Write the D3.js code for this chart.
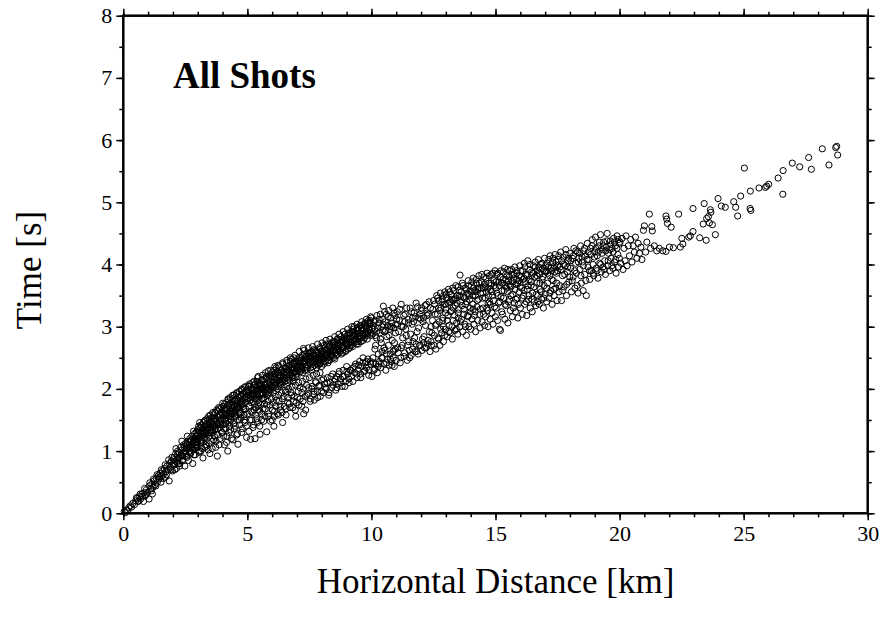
<!DOCTYPE html>
<html>
<head>
<meta charset="utf-8">
<script src="https://cdn.jsdelivr.net/npm/d3@7"></script>
<style>
  body { margin: 0; background: #fff; }
  svg text { font-family: "Liberation Serif", "DejaVu Serif", serif; }
</style>
</head>
<body>
<div id="chart"></div>
<script>
// picks: [horizontal distance km, travel time s]
const picks0to2_5 = [[0.04,0.03],[0.08,0.01],[0.12,0.05],[0.18,0.04],[0.22,0.09],[0.28,0.12],[0.33,0.1],[0.38,0.16],[0.45,0.14],[0.5,0.2],[0.56,0.24],[0.6,0.19],[0.66,0.27],[0.7,0.23],[0.75,0.31],[0.81,0.19],[0.84,0.33],[0.88,0.28],[0.93,0.38],[0.98,0.34],[1.04,0.23],[1.05,0.44],[1.1,0.39],[1.15,0.47],[1.2,0.42],[1.24,0.52],[1.28,0.46],[1.33,0.56],[1.37,0.5],[1.4,0.6],[1.44,0.55],[1.48,0.64],[1.52,0.5],[1.55,0.6],[1.58,0.68],[1.62,0.63],[1.66,0.72],[1.7,0.58],[1.72,0.67],[1.76,0.76],[1.8,0.7],[1.85,0.52],[1.86,0.8],[1.9,0.74],[1.94,0.84],[1.98,0.68],[2.02,0.79],[2.05,0.9],[2.1,0.84],[2.14,0.72],[2.18,0.94],[2.2,0.88],[2.25,0.98],[2.28,0.8],[2.32,0.92],[2.36,1.02],[2.4,0.86],[2.42,0.97],[2.46,1.06],[2.48,0.76],
  [0.53,0.25],[0.62,0.2],[0.68,0.31],[0.77,0.27],[0.86,0.4],[0.91,0.3],[1.07,0.49],[1.13,0.36],[1.22,0.55],[1.31,0.44],[1.36,0.62],[1.46,0.58],[1.53,0.7],[1.61,0.56],[1.69,0.78],[1.74,0.62],[1.83,0.86],[1.91,0.7],[1.96,0.9],[1.17,0.31],
  [2.03,0.86],[2.07,0.7],[2.11,0.96],[2.16,0.82],[2.19,1.0],[2.23,0.9],[2.27,0.76],[2.31,1.06],[2.34,0.94],[2.38,0.84],[2.43,1.1],[2.47,0.98],
  [2.06,0.78],[2.21,0.8],[2.39,0.92],[2.12,1.04],[2.36,1.16]];

const picks2_5to5 = [[2.52,1.0],[2.55,0.92],[2.58,1.1],[2.6,1.04],[2.63,0.85],[2.66,1.14],[2.7,1.06],[2.72,0.98],[2.75,1.18],[2.78,1.1],[2.8,0.8],[2.82,1.02],[2.85,1.2],[2.88,1.13],[2.9,0.94],[2.93,1.24],[2.96,1.16],[2.98,1.06],[3.0,1.28],[3.02,1.2],[3.05,0.98],[3.08,1.46],[3.1,1.24],[3.12,1.14],[3.15,1.32],[3.18,1.04],[3.2,1.27],[3.21,0.89],[3.24,1.36],[3.27,1.2],[3.3,1.3],[3.32,1.1],[3.35,1.4],[3.38,1.26],[3.4,1.34],[3.42,1.02],[3.45,1.44],[3.48,1.3],[3.49,0.96],[3.52,1.38],[3.55,1.48],[3.57,1.16],[3.6,1.34],[3.62,1.42],[3.65,1.52],[3.67,1.24],[3.7,1.4],[3.72,1.06],[3.75,1.48],[3.76,1.66],[3.78,1.56],[3.79,0.92],[3.82,1.36],[3.85,1.44],[3.88,1.58],[3.9,1.2],[3.92,1.5],[3.95,1.62],[3.97,1.3],[4.0,1.54],[4.02,1.42],[4.05,1.66],[4.08,1.1],[4.1,1.58],[4.12,1.48],[4.15,1.7],[4.18,1.24],[4.2,1.6],[4.21,1.0],[4.24,1.52],[4.27,1.74],[4.3,1.64],[4.32,1.34],[4.35,1.56],[4.38,1.78],[4.4,1.68],[4.42,1.18],[4.45,1.6],[4.48,1.72],[4.5,1.82],[4.52,1.4],[4.55,1.66],[4.58,1.76],[4.6,1.28],[4.62,1.11],[4.64,1.86],[4.66,1.7],[4.68,1.5],[4.7,1.8],[4.72,1.62],[4.75,1.9],[4.78,1.74],[4.8,1.36],[4.82,1.84],[4.85,1.68],[4.88,1.94],[4.9,1.46],[4.92,1.78],[4.95,1.88],[4.97,1.22],[4.99,1.98],[3.55,1.29],[3.68,1.34],[4.05,1.36],[4.28,1.46],[2.95,1.1],[3.15,1.18],[4.48,1.55],[4.86,1.58],[3.92,1.42],[2.7,1.16],[4.15,1.58],[4.6,1.72],[3.3,1.22],[4.75,1.76],[4.38,1.64],
  [2.51,1.12],[2.54,1.04],[2.57,0.9],[2.61,1.16],[2.64,1.06],[2.68,1.2],[2.71,0.96],[2.74,1.1],[2.77,1.24],[2.81,1.14],[2.84,0.94],[2.87,1.28],[2.89,1.18],[2.92,1.06],[2.94,1.3],[2.97,1.2],[2.99,1.34],[2.86,1.06],
  [3.03,1.32],[3.06,1.22],[3.09,1.38],[3.11,1.3],[3.14,1.42],[3.17,1.24],[3.19,1.36],[3.22,1.46],[3.26,1.3],[3.28,1.4],[3.31,1.5],[3.34,1.34],[3.37,1.44],[3.39,1.52],[3.43,1.38],[3.46,1.5],[3.5,1.58],[3.53,1.44],[3.56,1.54],[3.59,1.4],[3.63,1.58],[3.66,1.48],[3.69,1.62],[3.73,1.52],[3.77,1.44],[3.8,1.64],[3.83,1.54],[3.87,1.68],[3.91,1.58],[3.94,1.48],[3.96,1.7],[3.99,1.6],
  [4.03,1.72],[4.06,1.6],[4.09,1.76],[4.11,1.66],[4.14,1.52],[4.17,1.78],[4.19,1.68],[4.23,1.82],[4.26,1.62],[4.29,1.76],[4.31,1.86],[4.34,1.7],[4.37,1.6],[4.39,1.84],[4.43,1.74],[4.46,1.9],[4.49,1.66],[4.53,1.8],[4.56,1.92],[4.59,1.7],[4.63,1.82],[4.67,1.96],[4.69,1.76],[4.73,1.88],[4.76,1.98],[4.79,1.8],[4.83,1.92],[4.87,2.02],[4.91,1.86],[4.94,1.96],[4.98,1.82],
  [3.13,1.0],[3.36,1.08],[3.58,1.04],[3.74,1.16],[3.86,1.1],[4.04,1.24],[4.16,1.14],[4.26,1.3],[4.36,1.2],[4.47,1.36],[4.57,1.26],[4.69,1.42],[4.77,1.3],[4.89,1.5],[4.96,1.4],
  [2.53,0.96],[2.67,1.0],[2.79,1.04],[2.91,1.1],[3.01,1.14],[3.16,1.16],[3.23,1.22],[3.33,1.28],[3.47,1.24],[3.54,1.34],[3.61,1.3],[3.71,1.36],[3.81,1.42],[3.89,1.38],[4.07,1.5],[4.13,1.44],[4.25,1.56],[4.33,1.5],[4.47,1.62],[4.54,1.56],[4.65,1.66],[4.71,1.6],[4.84,1.72],[4.93,1.68],
  [2.58,1.24],[2.83,1.32],[3.04,1.4],[3.27,1.48],[3.44,1.56],[3.61,1.62],[3.84,1.7],[4.01,1.77],[4.22,1.84],[4.41,1.9],[4.57,1.94],[4.78,2.0],[4.93,2.04],
  [3.07,1.0],[3.29,1.06],[3.46,1.12],[3.64,1.18],[3.81,1.26],[3.98,1.3],[4.13,1.36],[4.29,1.4],[4.44,1.44],[4.61,1.5],[4.74,1.54],[4.87,1.58]];

const picks5to7_5 = [[5.02,1.84],[5.04,2.05],[5.06,1.72],[5.08,1.94],[5.1,1.5],[5.13,1.19],[5.14,1.88],[5.16,1.78],[5.18,2.0],[5.2,1.62],[5.22,1.9],[5.25,1.42],[5.27,2.06],[5.3,1.84],[5.31,1.2],[5.33,1.96],[5.35,1.7],[5.38,1.52],[5.4,2.02],[5.42,1.88],[5.44,2.2],[5.46,1.78],[5.48,1.98],[5.5,1.4],[5.51,1.27],[5.53,2.08],[5.55,1.92],[5.58,1.6],[5.6,2.0],[5.62,2.14],[5.64,1.84],[5.66,1.48],[5.68,2.06],[5.7,1.96],[5.72,1.68],[5.75,2.18],[5.78,1.31],[5.79,2.02],[5.82,1.9],[5.84,2.29],[5.86,1.56],[5.88,2.1],[5.9,1.98],[5.92,1.74],[5.95,2.2],[5.97,2.04],[6.0,1.5],[6.02,2.12],[6.04,1.94],[6.07,1.4],[6.08,2.24],[6.1,1.64],[6.12,2.06],[6.15,2.16],[6.17,1.82],[6.2,2.28],[6.22,2.0],[6.25,1.58],[6.27,2.14],[6.3,2.22],[6.32,1.72],[6.35,2.08],[6.38,2.3],[6.4,1.62],[6.42,1.46],[6.44,2.18],[6.46,2.26],[6.48,1.88],[6.5,2.12],[6.52,2.34],[6.55,1.68],[6.57,2.22],[6.6,2.04],[6.62,1.78],[6.65,2.3],[6.67,2.16],[6.7,2.38],[6.72,1.7],[6.75,2.24],[6.78,1.9],[6.79,2.48],[6.82,2.32],[6.84,2.12],[6.86,1.8],[6.88,2.4],[6.9,2.26],[6.93,1.66],[6.95,1.56],[6.97,2.36],[7.0,2.2],[7.02,1.86],[7.04,2.44],[7.06,2.3],[7.08,1.74],[7.1,2.38],[7.12,2.02],[7.15,2.28],[7.18,2.5],[7.2,1.94],[7.22,2.36],[7.24,1.8],[7.26,2.65],[7.27,1.6],[7.3,2.42],[7.32,2.3],[7.35,1.66],[7.37,2.52],[7.4,1.9],[7.42,2.38],[7.45,2.46],[7.47,2.02],[7.49,2.56],[5.25,1.92],[5.55,2.02],[5.9,2.08],[6.3,2.1],[6.7,2.28],[7.1,2.34],[5.45,1.66],[6.05,1.78],[6.55,1.95],[7.25,2.4],[5.75,1.99],[6.15,2.03],[6.95,2.28],[5.35,1.98],[6.45,2.2],[7.4,2.48],[5.68,1.86],[6.85,2.18],
  [5.03,1.96],[5.07,2.04],[5.11,1.86],[5.15,2.0],[5.19,1.92],[5.21,2.1],[5.24,1.8],[5.28,1.98],[5.32,2.08],[5.36,1.9],[5.39,2.12],[5.43,1.98],[5.47,2.06],[5.52,1.9],[5.56,2.14],[5.59,2.02],[5.63,1.94],[5.67,2.16],[5.71,2.06],[5.74,1.92],[5.77,2.2],[5.81,2.08],[5.85,2.0],[5.89,2.22],[5.93,2.12],[5.96,1.98],[5.99,2.26],[5.87,1.94],[5.58,1.84],[5.29,1.76],
  [6.03,2.2],[6.06,2.3],[6.09,2.1],[6.13,2.24],[6.16,2.34],[6.19,2.14],[6.23,2.26],[6.26,2.04],[6.29,2.36],[6.33,2.2],[6.36,2.3],[6.39,2.12],[6.43,2.4],[6.47,2.24],[6.51,2.16],[6.54,2.34],[6.58,2.42],[6.61,2.26],[6.64,2.1],[6.68,2.36],[6.71,2.22],[6.74,2.44],[6.77,2.3],[6.81,2.18],[6.83,2.4],[6.87,2.5],[6.91,2.32],[6.94,2.2],[6.96,2.44],[6.99,2.34],
  [7.03,2.4],[7.07,2.5],[7.11,2.28],[7.14,2.44],[7.17,2.36],[7.21,2.54],[7.23,2.26],[7.28,2.46],[7.31,2.56],[7.34,2.36],[7.38,2.48],[7.41,2.3],[7.44,2.58],[7.48,2.42],
  [5.06,1.32],[5.17,1.5],[5.23,1.38],[5.34,1.58],[5.41,1.46],[5.49,1.64],[5.57,1.5],[5.63,1.68],[5.71,1.56],[5.79,1.74],[5.86,1.6],[5.93,1.48],[6.01,1.66],[6.09,1.56],[6.14,1.72],[6.21,1.6],[6.28,1.8],[6.34,1.66],[6.41,1.84],[6.49,1.72],[6.56,1.58],[6.63,1.86],[6.69,1.76],[6.76,1.94],[6.83,1.7],[6.89,1.88],[6.97,1.78],[7.05,1.96],[7.13,1.84],[7.19,1.72],[7.25,2.0],[7.33,1.88],[7.39,2.06],[7.46,1.92],
  [5.05,1.9],[5.12,1.82],[5.19,1.98],[5.26,1.88],[5.37,1.84],[5.44,2.0],[5.51,2.04],[5.6,1.9],[5.66,2.1],[5.73,2.0],[5.8,1.96],[5.88,2.16],[5.96,2.06],[6.04,2.02],[6.11,2.18],[6.18,2.1],[6.24,2.22],[6.31,2.06],[6.37,2.26],[6.44,2.14],[6.51,2.28],[6.58,2.18],[6.63,2.32],[6.71,2.14],[6.78,2.34],[6.84,2.26],[6.92,2.42],[6.98,2.24],[7.05,2.36],[7.13,2.46],[7.19,2.32],[7.27,2.44],[7.33,2.5],[7.39,2.34],[7.47,2.5],
  [5.09,2.08],[5.26,2.12],[5.41,2.18],[5.61,2.22],[5.73,2.26],[5.94,2.3],[6.11,2.36],[6.24,2.38],[6.42,2.42],[6.59,2.46],[6.73,2.5],[6.92,2.54],[7.09,2.6],[7.29,2.62],[7.46,2.66],
  [5.01,1.6],[5.14,1.64],[5.28,1.66],[5.43,1.72],[5.54,1.74],[5.69,1.76],[5.83,1.8],[5.97,1.84],[6.12,1.88],[6.26,1.9],[6.37,1.94],[6.52,1.98],[6.66,2.0],[6.8,2.04],[6.94,2.06],[7.07,2.1],[7.22,2.12],[7.36,2.16],[7.5,2.18]];

const picks7_5to10 = [[7.52,2.4],[7.54,1.84],[7.56,2.58],[7.58,2.3],[7.6,2.0],[7.62,2.48],[7.64,2.36],[7.66,2.63],[7.68,1.92],[7.7,1.82],[7.72,2.44],[7.74,2.54],[7.76,2.1],[7.78,2.34],[7.8,2.6],[7.82,1.96],[7.84,2.46],[7.86,2.38],[7.88,2.04],[7.9,2.66],[7.92,2.5],[7.94,1.88],[7.96,2.42],[7.98,2.56],[8.0,2.14],[8.02,2.62],[8.04,2.48],[8.06,1.94],[8.08,2.4],[8.1,2.7],[8.12,2.08],[8.14,2.54],[8.16,2.44],[8.18,2.0],[8.2,2.64],[8.22,2.18],[8.24,2.5],[8.26,2.58],[8.28,1.9],[8.3,2.72],[8.32,2.46],[8.34,2.1],[8.36,2.56],[8.38,2.66],[8.4,2.02],[8.42,2.52],[8.44,2.24],[8.46,2.76],[8.48,2.6],[8.5,2.12],[8.52,2.48],[8.54,2.7],[8.56,1.98],[8.58,2.62],[8.6,2.2],[8.62,2.8],[8.64,2.56],[8.66,2.08],[8.68,2.68],[8.7,2.28],[8.72,2.74],[8.74,2.6],[8.76,2.16],[8.78,2.84],[8.8,2.66],[8.82,2.04],[8.84,2.58],[8.86,2.3],[8.88,2.76],[8.9,2.2],[8.92,2.7],[8.94,2.88],[8.96,2.12],[8.98,2.62],[9.0,2.36],[9.02,2.8],[9.04,2.24],[9.06,2.72],[9.08,2.9],[9.1,2.1],[9.12,2.66],[9.14,2.3],[9.16,2.82],[9.18,2.76],[9.2,2.2],[9.22,2.92],[9.24,2.68],[9.26,2.34],[9.28,2.86],[9.3,3.0],[9.32,2.26],[9.34,2.78],[9.36,2.4],[9.38,2.94],[9.4,2.72],[9.42,2.18],[9.44,2.84],[9.46,2.3],[9.48,2.98],[9.5,2.8],[9.52,2.44],[9.54,2.9],[9.56,2.24],[9.58,2.76],[9.6,3.02],[9.62,2.36],[9.64,2.88],[9.66,2.5],[9.68,2.96],[9.7,2.28],[9.72,2.82],[9.74,3.06],[9.76,2.42],[9.78,2.92],[9.8,2.34],[9.82,3.0],[9.84,2.86],[9.86,2.48],[9.88,3.1],[9.9,2.3],[9.92,2.94],[9.94,3.04],[9.96,2.44],[9.98,2.9],[7.75,2.47],[8.05,2.55],[8.35,2.6],[8.65,2.64],[8.95,2.74],[9.25,2.78],[9.55,2.85],[9.85,2.92],[7.95,2.5],[8.55,2.58],[9.15,2.7],[9.75,2.88],[8.25,2.42],[8.85,2.66],[9.45,2.76],
  [7.51,2.52],[7.55,2.34],[7.59,2.6],[7.63,2.44],[7.67,2.54],[7.71,2.38],[7.73,2.62],[7.77,2.5],[7.81,2.4],[7.85,2.58],[7.89,2.46],[7.93,2.64],[7.97,2.52],[7.99,2.36],
  [8.03,2.6],[8.07,2.44],[8.11,2.66],[8.15,2.52],[8.19,2.72],[8.23,2.56],[8.27,2.46],[8.31,2.68],[8.35,2.54],[8.39,2.74],[8.43,2.62],[8.47,2.5],[8.51,2.76],[8.55,2.64],[8.59,2.54],[8.63,2.72],[8.67,2.8],[8.71,2.6],[8.75,2.7],[8.79,2.56],[8.83,2.78],[8.87,2.66],[8.91,2.82],[8.95,2.6],[8.99,2.76],
  [9.03,2.86],[9.07,2.64],[9.11,2.8],[9.15,2.9],[9.19,2.7],[9.23,2.84],[9.27,2.96],[9.31,2.74],[9.35,2.88],[9.39,2.8],[9.43,2.98],[9.47,2.72],[9.51,2.9],[9.55,3.02],[9.59,2.82],[9.63,2.94],[9.67,2.78],[9.71,3.04],[9.75,2.9],[9.79,2.98],[9.83,2.8],[9.87,3.06],[9.91,2.96],[9.95,3.1],[9.99,2.86],
  [7.53,1.8],[7.61,2.04],[7.69,1.96],[7.75,2.12],[7.83,1.86],[7.91,2.06],[7.99,1.96],[8.07,2.16],[8.13,2.02],[8.21,2.1],[8.29,1.94],[8.37,2.2],[8.45,2.06],[8.53,2.16],[8.61,2.02],[8.69,2.24],[8.77,2.1],[8.85,2.2],[8.93,2.04],[9.01,2.28],[9.09,2.16],[9.17,2.3],[9.25,2.12],[9.33,2.36],[9.41,2.24],[9.49,2.38],[9.57,2.18],[9.65,2.42],[9.73,2.3],[9.81,2.44],[9.89,2.22],[9.97,2.4],
  [7.54,2.44],[7.62,2.56],[7.68,2.42],[7.76,2.58],[7.84,2.5],[7.91,2.4],[7.98,2.6],[8.06,2.5],[8.13,2.62],[8.21,2.54],[8.28,2.68],[8.36,2.52],[8.44,2.7],[8.53,2.58],[8.61,2.74],[8.69,2.62],[8.77,2.76],[8.85,2.68],[8.93,2.8],[9.02,2.7],[9.1,2.86],[9.18,2.74],[9.26,2.9],[9.35,2.8],[9.44,2.94],[9.52,2.84],[9.6,2.98],[9.69,2.86],[9.77,3.02],[9.86,2.9],[9.94,3.06],
  [7.63,2.68],[7.83,2.72],[8.01,2.74],[8.17,2.78],[8.33,2.8],[8.52,2.84],[8.69,2.88],[8.86,2.92],[9.04,2.96],[9.21,3.0],[9.42,3.04],[9.61,3.08],[9.8,3.12],[9.97,3.16],
  [7.65,2.22],[7.79,2.24],[7.93,2.26]];

const picks10to12_5 = [[10.0,3.14],[10.02,2.2],[10.04,2.88],[10.06,2.5],[10.08,3.02],[10.1,2.3],[10.12,2.96],[10.14,2.64],[10.16,3.1],[10.18,2.4],[10.2,2.82],[10.22,3.18],[10.24,2.26],[10.26,2.98],[10.28,2.56],[10.3,3.06],[10.32,2.44],[10.34,2.9],[10.36,3.2],[10.38,2.34],[10.4,2.74],[10.42,3.0],[10.44,2.5],[10.46,3.12],[10.48,3.33],[10.5,2.4],[10.52,2.92],[10.54,2.62],[10.56,3.08],[10.58,2.3],[10.6,3.2],[10.62,2.84],[10.64,2.48],[10.66,3.02],[10.68,2.7],[10.7,3.26],[10.72,2.38],[10.74,2.96],[10.76,2.56],[10.78,3.14],[10.8,2.44],[10.82,3.06],[10.84,2.78],[10.86,3.3],[10.88,2.5],[10.9,2.98],[10.92,2.36],[10.94,3.18],[10.96,2.64],[10.98,3.04],[11.0,2.46],[11.04,3.24],[11.08,2.58],[11.12,3.1],[11.16,2.42],[11.2,3.36],[11.24,2.7],[11.28,3.0],[11.32,2.52],[11.36,3.2],[11.4,2.86],[11.44,2.46],[11.48,3.12],[11.52,2.62],[11.56,3.3],[11.6,2.54],[11.64,3.04],[11.68,2.76],[11.72,3.22],[11.76,2.6],[11.8,3.38],[11.84,2.92],[11.88,2.56],[11.92,3.14],[11.96,2.7],[12.0,3.26],[12.04,2.62],[12.08,3.08],[12.12,2.84],[12.16,3.34],[12.2,2.66],[12.24,3.18],[12.28,2.78],[12.32,3.4],[12.36,2.6],[12.4,3.0],[12.44,2.9],[12.48,3.28],[10.15,2.86],[10.45,2.94],[10.75,3.0],[11.05,3.04],[11.35,3.08],[11.65,3.14],[11.95,3.2],[12.25,3.22],[10.3,2.4],[10.9,2.62],[11.5,2.76],[12.1,2.74],[10.6,2.56],[11.2,2.66],[11.8,2.72],[12.4,2.76],
  [10.03,2.98],[10.07,2.42],[10.11,3.08],[10.17,2.7],[10.21,2.92],[10.27,2.36],[10.31,3.12],[10.37,2.8],[10.41,2.5],[10.47,3.04],[10.51,2.66],[10.57,2.94],[10.61,2.42],[10.67,3.16],[10.71,2.86],[10.77,2.48],[10.81,3.0],[10.87,2.6],[10.91,3.22],[10.97,2.9],[10.13,2.32],[10.53,3.24],[10.83,2.38],[10.43,2.6],[10.93,2.74],
  [11.02,3.12],[11.06,2.66],[11.1,2.92],[11.14,3.28],[11.18,2.5],[11.22,3.0],[11.26,2.82],[11.3,3.18],[11.34,2.58],[11.38,2.96],[11.42,3.3],[11.46,2.7],[11.5,3.06],[11.54,2.5],[11.58,2.88],[11.62,3.24],[11.66,2.64],[11.7,3.08],[11.74,2.82],[11.78,3.16],[11.82,2.6],[11.86,3.32],[11.9,2.98],[11.94,2.7],[11.98,3.12],
  [12.02,3.3],[12.06,2.8],[12.1,3.14],[12.14,2.66],[12.18,3.02],[12.22,3.36],[12.26,2.72],[12.3,3.2],[12.34,2.92],[12.38,3.3],[12.42,2.7],[12.46,3.1]];

const picks12_5to15 = [[12.52,2.7],[12.55,3.36],[12.58,3.02],[12.6,2.64],[12.63,3.5],[12.66,3.2],[12.68,2.82],[12.7,3.42],[12.73,3.08],[12.76,2.7],[12.78,3.54],[12.8,3.3],[12.83,2.9],[12.86,3.44],[12.88,3.14],[12.9,2.76],[12.93,3.36],[12.96,3.56],[12.98,2.96],[13.0,3.28],[13.03,3.46],[13.06,2.84],[13.08,3.18],[13.1,3.6],[13.13,3.02],[13.16,3.4],[13.18,2.9],[13.2,3.52],[13.23,3.26],[13.26,2.8],[13.28,3.62],[13.3,3.1],[13.33,3.44],[13.36,2.94],[13.38,3.34],[13.4,3.66],[13.43,3.06],[13.46,3.5],[13.48,2.88],[13.5,3.22],[13.53,3.58],[13.56,3.0],[13.57,3.83],[13.6,3.4],[13.63,3.12],[13.66,3.7],[13.68,2.92],[13.7,3.48],[13.73,3.28],[13.76,3.04],[13.78,3.62],[13.8,3.36],[13.83,2.86],[13.86,3.54],[13.88,3.18],[13.9,3.74],[13.93,3.0],[13.96,3.44],[13.98,3.3],[14.0,2.96],[14.03,3.66],[14.06,3.12],[14.08,3.5],[14.1,3.78],[14.13,3.04],[14.16,3.58],[14.18,3.24],[14.2,2.92],[14.23,3.7],[14.26,3.42],[14.28,3.1],[14.3,3.62],[14.33,3.82],[14.36,3.2],[14.38,2.98],[14.4,3.54],[14.43,3.72],[14.46,3.08],[14.48,3.46],[14.5,3.3],[14.53,3.8],[14.56,3.02],[14.58,3.64],[14.6,3.16],[14.63,3.56],[14.66,3.86],[14.68,3.26],[14.7,3.0],[14.73,3.7],[14.76,3.4],[14.78,3.12],[14.8,3.6],[14.83,3.84],[14.86,3.22],[14.88,3.5],[14.9,3.04],[14.93,3.74],[14.96,3.32],[14.98,3.9],[12.7,3.3],[13.0,3.36],[13.3,3.42],[13.6,3.48],[13.9,3.52],[14.2,3.56],[14.5,3.62],[14.8,3.66],[12.9,3.0],[13.5,3.14],[14.1,3.28],[14.7,3.38],
  [12.5,3.42],[12.54,2.86],[12.57,3.2],[12.62,3.04],[12.67,3.46],[12.71,2.8],[12.75,3.26],[12.79,2.96],[12.84,3.4],[12.87,3.1],[12.91,3.5],[12.95,2.86],[12.99,3.22],
  [13.02,3.52],[13.05,3.1],[13.09,3.38],[13.12,2.92],[13.15,3.56],[13.19,3.24],[13.22,3.44],[13.25,3.0],[13.29,3.3],[13.32,3.58],[13.35,3.18],[13.39,3.46],[13.42,2.96],[13.45,3.38],[13.49,3.64],[13.52,3.28],[13.55,3.5],[13.59,3.08],[13.62,3.56],[13.65,3.34],[13.69,3.66],[13.72,3.2],[13.75,3.46],[13.79,3.0],[13.82,3.6],[13.85,3.4],[13.89,3.16],[13.92,3.66],[13.95,3.5],[13.99,3.24],
  [14.02,3.56],[14.05,3.72],[14.09,3.36],[14.12,3.62],[14.15,3.18],[14.19,3.5],[14.22,3.76],[14.25,3.32],[14.29,3.6],[14.32,3.44],[14.35,3.7],[14.39,3.28],[14.42,3.62],[14.45,3.84],[14.49,3.54],[14.52,3.2],[14.55,3.68],[14.59,3.46],[14.62,3.78],[14.65,3.3],[14.69,3.62],[14.72,3.5],[14.75,3.82],[14.79,3.36],[14.82,3.7],[14.85,3.56],[14.89,3.86],[14.92,3.42],[14.95,3.66],[14.99,3.16]];

const picks15to17_5 = [[15.0,3.62],[15.03,3.3],[15.06,3.84],[15.08,3.1],[15.1,3.5],[15.13,3.72],[15.16,2.96],[15.18,3.4],[15.2,2.94],[15.23,3.9],[15.26,3.58],[15.28,3.2],[15.3,3.76],[15.33,3.46],[15.36,3.94],[15.38,3.12],[15.4,3.66],[15.43,3.34],[15.46,3.82],[15.48,3.56],[15.5,3.06],[15.53,3.74],[15.56,3.44],[15.58,3.9],[15.6,3.26],[15.63,3.64],[15.66,3.84],[15.68,3.16],[15.7,3.52],[15.73,3.78],[15.76,3.38],[15.78,3.96],[15.8,3.24],[15.83,3.68],[15.86,3.86],[15.88,3.46],[15.9,3.14],[15.93,3.74],[15.96,3.56],[15.98,3.98],[16.0,3.3],[16.03,3.8],[16.06,3.62],[16.08,3.2],[16.1,3.9],[16.13,3.5],[16.16,4.02],[16.18,3.36],[16.2,3.72],[16.23,3.84],[16.26,3.18],[16.28,3.6],[16.3,4.06],[16.33,3.44],[16.36,3.76],[16.38,3.92],[16.4,3.3],[16.43,3.66],[16.46,3.88],[16.48,3.24],[16.5,3.54],[16.53,3.98],[16.56,3.4],[16.58,3.8],[16.6,4.04],[16.63,3.34],[16.66,3.7],[16.68,3.9],[16.7,3.5],[16.73,4.08],[16.76,3.36],[16.78,3.84],[16.8,3.6],[16.83,4.0],[16.86,3.44],[16.88,3.76],[16.9,3.94],[16.93,3.3],[16.96,3.66],[16.98,4.1],[17.0,3.52],[17.03,3.88],[17.06,3.4],[17.08,4.02],[17.1,3.7],[17.13,3.96],[17.16,3.46],[17.18,3.82],[17.2,4.14],[17.23,3.58],[17.26,3.9],[17.28,3.36],[17.3,4.04],[17.33,3.74],[17.36,3.5],[17.38,3.98],[17.4,4.16],[17.43,3.62],[17.46,3.86],[17.48,3.42],[15.25,3.7],[15.55,3.68],[15.85,3.76],[16.15,3.78],[16.45,3.82],[16.75,3.86],[17.05,3.9],[17.35,3.94],
  [15.02,3.72],[15.05,3.54],[15.09,3.86],[15.12,3.38],[15.15,3.66],[15.19,3.8],[15.22,3.48],[15.25,3.24],[15.29,3.7],[15.32,3.88],[15.35,3.58],[15.39,3.36],[15.42,3.76],[15.45,3.62],[15.49,3.92],[15.52,3.4],[15.55,3.8],[15.59,3.66],[15.62,3.5],[15.65,3.92],[15.69,3.72],[15.72,3.3],[15.75,3.84],[15.79,3.6],[15.82,3.44],[15.85,3.9],[15.89,3.7],[15.92,3.36],[15.95,3.82],[15.99,3.64],
  [16.02,3.9],[16.07,3.46],[16.11,3.76],[16.15,3.58],[16.19,3.96],[16.24,3.4],[16.27,3.82],[16.31,3.66],[16.35,3.5],[16.39,4.0],[16.44,3.72],[16.47,3.44],[16.51,3.86],[16.55,3.64],[16.59,3.96],[16.64,3.52],[16.67,3.82],[16.71,3.4],[16.75,3.96],[16.79,3.7],[16.84,3.56],[16.87,4.02],[16.91,3.8],[16.95,3.46],[16.99,3.9],
  [17.02,3.98],[17.07,3.62],[17.11,3.86],[17.15,4.08],[17.19,3.54],[17.24,3.94],[17.27,3.76],[17.31,4.1],[17.35,3.6],[17.39,3.88],[17.44,4.04],[17.47,3.7]];

const picks17_5to20 = [[17.5,3.9],[17.53,4.08],[17.56,3.56],[17.6,3.96],[17.63,4.2],[17.66,3.42],[17.7,3.82],[17.73,4.12],[17.76,3.64],[17.8,3.98],[17.83,4.24],[17.86,3.5],[17.9,3.88],[17.93,4.06],[17.96,3.72],[18.0,4.18],[18.03,3.94],[18.06,3.56],[18.1,4.1],[18.13,3.8],[18.16,4.26],[18.2,3.62],[18.23,4.02],[18.26,3.86],[18.3,4.2],[18.33,3.54],[18.36,4.1],[18.4,3.92],[18.43,4.3],[18.46,3.7],[18.5,4.04],[18.53,3.58],[18.56,4.22],[18.6,3.84],[18.63,4.14],[18.66,3.5],[18.7,4.34],[18.73,3.96],[18.76,4.08],[18.8,3.76],[18.83,4.26],[18.86,3.9],[18.9,4.4],[18.93,4.0],[18.96,3.82],[19.0,4.2],[19.03,4.44],[19.06,3.94],[19.1,4.14],[19.13,3.78],[19.16,4.3],[19.2,4.02],[19.23,4.48],[19.26,3.88],[19.3,4.24],[19.33,3.96],[19.36,4.36],[19.4,4.06],[19.43,3.84],[19.46,4.28],[19.5,4.5],[19.53,3.98],[19.56,4.18],[19.6,3.9],[19.63,4.38],[19.66,4.1],[19.7,4.26],[19.73,3.94],[19.76,4.42],[19.8,4.04],[19.83,4.3],[19.86,3.86],[19.9,4.46],[19.93,4.16],[19.96,3.96],[19.98,4.34],
  [17.51,3.98],[17.55,4.14],[17.59,3.66],[17.64,3.92],[17.67,4.06],[17.71,3.58],[17.75,4.0],[17.79,3.84],[17.84,4.16],[17.87,3.68],[17.91,3.96],[17.95,4.1],[17.99,3.8],
  [18.04,4.06],[18.09,3.74],[18.14,4.14],[18.19,3.9],[18.24,4.22],[18.29,3.66],[18.34,4.04],[18.39,4.18],[18.44,3.82],[18.49,4.12],[18.54,3.98],[18.59,4.26],[18.64,3.74],[18.69,4.08],[18.74,4.2],[18.79,3.9],[18.84,4.16],[18.89,4.3],[18.94,3.86],[18.99,4.12],
  [19.04,4.26],[19.09,3.9],[19.14,4.2],[19.19,4.36],[19.24,4.0],[19.29,4.18],[19.34,4.3],[19.39,3.92],[19.44,4.22],[19.49,4.38],[19.54,4.06],[19.59,4.24],[19.64,4.32],[19.69,3.98],[19.74,4.2],[19.79,4.36],[19.84,4.08],[19.89,4.26],[19.94,4.4],[19.99,4.1]];

const picksTail = [[20.02,4.36],[20.05,4.02],[20.1,4.42],[20.14,3.92],[20.18,4.26],[20.22,4.06],[20.26,4.46],[20.3,3.98],[20.35,4.3],[20.4,4.14],[20.45,4.4],[20.5,4.04],[20.55,4.3],[20.6,4.2],[20.64,4.44],[20.7,4.1],[20.75,4.34],[20.8,4.18],[20.86,4.28],[20.9,4.08],[20.96,4.55],[21.0,4.62],[21.05,4.2],[21.1,4.36],[21.2,4.81],[21.25,4.26],[21.3,4.61],[21.32,4.54],[21.4,4.3],[21.5,4.22],[21.6,4.26],[21.74,4.22],[21.87,4.21],[21.87,4.78],[21.9,4.73],[21.93,4.66],[22.01,4.28],[22.08,4.6],[22.17,4.27],[22.38,4.81],[22.45,4.28],[22.51,4.42],[22.55,4.33],[22.79,4.44],[22.85,4.46],[22.96,4.53],[22.96,4.9],[23.23,4.43],[23.37,4.65],[23.41,4.98],[23.49,4.39],[23.51,4.74],[23.58,4.77],[23.62,4.67],[23.66,4.88],[23.68,4.84],[23.74,4.64],[23.86,4.48],[23.97,5.06],[24.1,4.94],[24.26,4.92],[24.6,5.01],[24.68,4.92],[24.76,4.78],[24.88,5.1],[25.03,5.55],[25.26,4.9],[25.29,4.87],[25.27,5.18],[25.62,5.23],[25.88,5.24],[25.93,5.26],[26.01,5.29],[26.39,5.39],[26.58,5.13],[26.59,5.51],[26.96,5.63],[27.26,5.57],[27.62,5.72],[27.73,5.53],[28.17,5.86],[28.44,5.6],[28.71,5.88],[28.75,5.9],[28.79,5.76]];

const xMajorTicks = [0, 5, 10, 15, 20, 25, 30];
const yMajorTicks = [0, 1, 2, 3, 4, 5, 6, 7, 8];
const title = 'All Shots';
const xLabel = 'Horizontal Distance [km]';
const yLabel = 'Time [s]';

const allPicks = [].concat(picks0to2_5, picks2_5to5, picks5to7_5, picks7_5to10,
  picks10to12_5, picks12_5to15, picks15to17_5, picks17_5to20, picksTail);

const width = 882, height = 626;
const margin = { top: 15.7, right: 14.3, bottom: 112.7, left: 123.3 };
const innerW = width - margin.left - margin.right;
const innerH = height - margin.top - margin.bottom;

const svg = d3.select('#chart').append('svg')
  .attr('width', width)
  .attr('height', height);

const g = svg.append('g')
  .attr('transform', `translate(${margin.left},${margin.top})`);

const x = d3.scaleLinear().domain([0, 30]).range([0, innerW]);
const y = d3.scaleLinear().domain([0, 8]).range([innerH, 0]);

// points first, frame on top
g.append('g')
  .selectAll('circle')
  .data(allPicks)
  .enter().append('circle')
  .attr('cx', d => x(d[0]))
  .attr('cy', d => y(d[1]))
  .attr('r', 3.1)
  .attr('fill', 'none')
  .attr('stroke', '#000')
  .attr('stroke-width', 1);

function styleAxis(sel) {
  sel.select('.domain').remove();
  sel.selectAll('line').attr('stroke', '#000').attr('stroke-width', 1.5);
}

// minor ticks
g.append('g').attr('transform', `translate(0,${innerH})`)
  .call(d3.axisBottom(x).tickValues(d3.range(0, 31, 1)).tickSize(4).tickFormat(''))
  .call(styleAxis);
g.append('g')
  .call(d3.axisTop(x).tickValues(d3.range(0, 31, 1)).tickSize(4).tickFormat(''))
  .call(styleAxis);
g.append('g')
  .call(d3.axisLeft(y).tickValues(d3.range(0, 8.01, 0.5)).tickSize(4).tickFormat(''))
  .call(styleAxis);
g.append('g').attr('transform', `translate(${innerW},0)`)
  .call(d3.axisRight(y).tickValues(d3.range(0, 8.01, 0.5)).tickSize(4).tickFormat(''))
  .call(styleAxis);

// major ticks + labels
const xAxis = g.append('g').attr('transform', `translate(0,${innerH})`)
  .call(d3.axisBottom(x).tickValues(xMajorTicks).tickSize(7).tickPadding(5).tickFormat(d3.format('d')))
  .call(styleAxis);
xAxis.selectAll('text').attr('font-size', 22).attr('fill', '#000')
  .attr('font-family', '"Liberation Serif", serif');

g.append('g')
  .call(d3.axisTop(x).tickValues(xMajorTicks).tickSize(7).tickFormat(''))
  .call(styleAxis);

const yAxis = g.append('g')
  .call(d3.axisLeft(y).tickValues(yMajorTicks).tickSize(7).tickPadding(4).tickFormat(d3.format('d')))
  .call(styleAxis);
yAxis.selectAll('text').attr('font-size', 22).attr('fill', '#000')
  .attr('font-family', '"Liberation Serif", serif');

g.append('g').attr('transform', `translate(${innerW},0)`)
  .call(d3.axisRight(y).tickValues(yMajorTicks).tickSize(7).tickFormat(''))
  .call(styleAxis);

// frame
g.append('rect')
  .attr('width', innerW)
  .attr('height', innerH)
  .attr('fill', 'none')
  .attr('stroke', '#000')
  .attr('stroke-width', 2.5);

g.append('text')
  .attr('x', x(2))
  .attr('y', y(6.84))
  .attr('font-size', 37)
  .attr('font-weight', 'bold')
  .text(title);

svg.append('text')
  .attr('x', margin.left + innerW / 2)
  .attr('y', 593)
  .attr('text-anchor', 'middle')
  .attr('font-size', 35)
  .text(xLabel);

svg.append('text')
  .attr('transform', `translate(41,270) rotate(-90)`)
  .attr('text-anchor', 'middle')
  .attr('font-size', 35)
  .text(yLabel);
</script>
</body>
</html>
